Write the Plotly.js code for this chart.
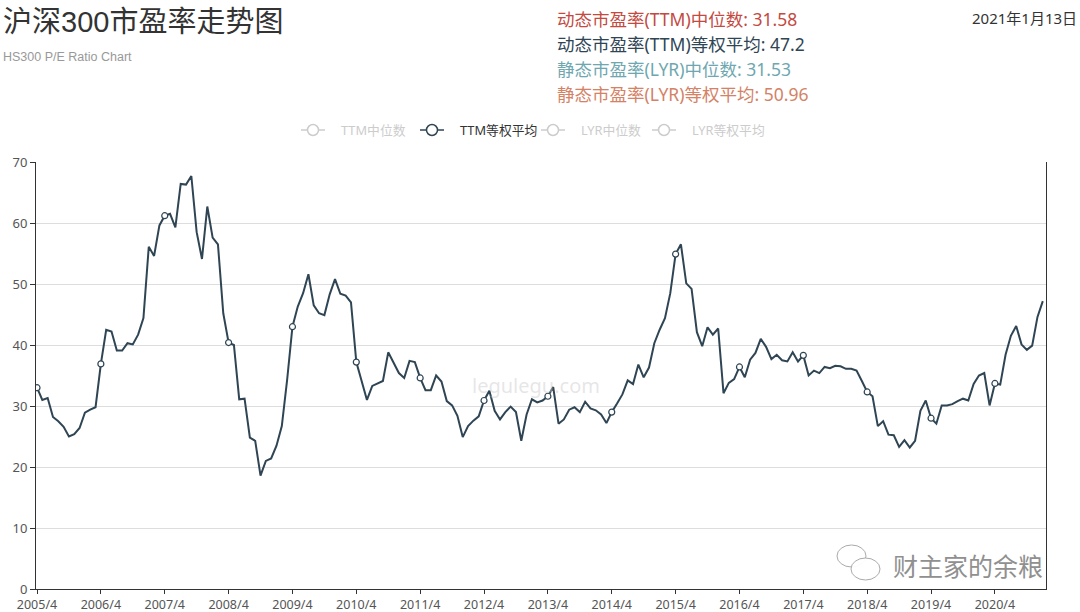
<!DOCTYPE html>
<html>
<head>
<meta charset="utf-8">
<script src="https://cdn.plot.ly/plotly-3.0.1.min.js"></script>
<style>html,body{margin:0;padding:0;background:#fff;}#chart{width:1080px;height:612px;}</style>
</head>
<body>
<div id="chart"></div>
<script>
// ---- data ----
var startYear = 2005, startMonth = 4;
var ttmEqualWeight = [
  33.0, 31.0, 31.3, 28.2, 27.5, 26.6, 25.0, 25.4, 26.4, 28.9, 29.4, 29.8,
  36.9, 42.5, 42.2, 39.1, 39.1, 40.3, 40.1, 41.7, 44.4, 56.1, 54.6, 59.6,
  61.2, 61.5, 59.3, 66.4, 66.3, 67.7, 58.5, 54.1, 62.7, 57.6, 56.5, 45.2,
  40.4, 40.0, 31.1, 31.2, 24.8, 24.3, 18.6, 21.0, 21.4, 23.5, 26.7, 34.3,
  43.0, 46.3, 48.5, 51.6, 46.5, 45.2, 44.9, 48.3, 50.8, 48.4, 48.1, 47.0,
  37.2, 34.3, 31.0, 33.3, 33.7, 34.1, 38.8, 37.2, 35.4, 34.6, 37.4, 37.2,
  34.6, 32.6, 32.6, 35.0, 34.0, 30.8, 30.1, 28.4, 24.9, 26.7, 27.6, 28.3,
  30.9, 32.5, 29.2, 27.8, 29.0, 29.9, 29.0, 24.3, 28.6, 31.1, 30.6, 30.9,
  31.6, 33.1, 27.1, 27.8, 29.4, 29.8, 29.0, 30.7, 29.6, 29.3, 28.6, 27.2,
  29.0, 30.4, 31.9, 34.2, 33.6, 36.8, 34.7, 36.3, 40.3, 42.5, 44.4, 48.5,
  54.9, 56.5, 50.1, 49.2, 42.1, 39.8, 42.9, 41.7, 42.7, 32.1, 33.8, 34.4,
  36.4, 34.7, 37.6, 38.7, 41.0, 39.7, 37.7, 38.4, 37.5, 37.3, 38.8, 37.3,
  38.3, 35.0, 35.8, 35.4, 36.4, 36.2, 36.6, 36.5, 36.1, 36.1, 35.8, 34.1,
  32.3, 31.6, 26.7, 27.5, 25.3, 25.2, 23.3, 24.4, 23.2, 24.3, 29.2, 30.9,
  28.0, 27.1, 30.1, 30.1, 30.3, 30.8, 31.2, 30.9, 33.6, 35.0, 35.4, 30.1,
  33.7, 33.5, 38.4, 41.5, 43.1, 40.1, 39.2, 39.9, 44.6, 47.2
];
var tickLabels = ['2005/4','2006/4','2007/4','2008/4','2009/4','2010/4','2011/4','2012/4',
                  '2013/4','2014/4','2015/4','2016/4','2017/4','2018/4','2019/4','2020/4'];
var legendNames = ['TTM中位数','TTM等权平均','LYR中位数','LYR等权平均'];
var legendActive = [false, true, false, false];
var summaryLabels = ['动态市盈率(TTM)中位数','动态市盈率(TTM)等权平均','静态市盈率(LYR)中位数','静态市盈率(LYR)等权平均'];
var summaryValues = ['31.58','47.2','31.53','50.96'];
var dateText = '2021年1月13日';

// month categories
var months = [];
for (var i = 0; i < ttmEqualWeight.length; i++) {
  var m = startMonth - 1 + i;
  months.push((startYear + Math.floor(m / 12)) + '/' + (m % 12 + 1));
}

// ---- styling ----
var LINE = '#2f4554';
var summaryColors = ['#c4493f', '#2f4554', '#6ea7b0', '#d48265'];
var FONT = 'Noto Sans, Noto Sans CJK SC, sans-serif';
var L = 36, R = 1046, T = 162, B = 589, W = 1080, H = 612;
function px(x) { return (x - L) / (R - L); }
function py(y) { return (B - y) / (B - T); }

var markerOpacity = months.map(function (d, i) { return i % 12 === 0 ? 1 : 0; });

var trace = {
  type: 'scatter', mode: 'lines+markers',
  x: months, y: ttmEqualWeight,
  line: { color: LINE, width: 2 },
  marker: { size: 6, color: '#ffffff', opacity: markerOpacity, line: { color: LINE, width: 1.2 } },
  showlegend: false, hoverinfo: 'x+y'
};

var annotations = [];
var shapes = [];

// title
annotations.push({ xref: 'paper', yref: 'paper', x: px(1), y: py(22), xanchor: 'left', yanchor: 'middle',
  text: '沪深300市盈率走势图', showarrow: false,
  font: { family: 'Liberation Sans, Noto Sans CJK SC, sans-serif', size: 29, color: '#333' } });
annotations.push({ xref: 'paper', yref: 'paper', x: px(1), y: py(57), xanchor: 'left', yanchor: 'middle',
  text: 'HS300 P/E Ratio Chart', showarrow: false,
  font: { family: 'Liberation Sans, sans-serif', size: 12.5, color: '#999' } });
// date
annotations.push({ xref: 'paper', yref: 'paper', x: px(1079), y: py(18), xanchor: 'right', yanchor: 'middle',
  text: dateText, showarrow: false, font: { family: FONT, size: 15, color: '#333' } });
// summary lines
for (var k = 0; k < summaryLabels.length; k++) {
  annotations.push({ xref: 'paper', yref: 'paper', x: px(555), y: py(19 + 25 * k), xanchor: 'left', yanchor: 'middle',
    text: summaryLabels[k] + ': ' + summaryValues[k], showarrow: false,
    font: { family: FONT, size: 17.5, color: summaryColors[k] } });
}
// legend (manual)
var legendCenters = [313, 432, 553, 664];
for (var j = 0; j < legendNames.length; j++) {
  var c = legendActive[j] ? LINE : '#cccccc';
  var cx = legendCenters[j], cy = 130;
  shapes.push({ type: 'line', xref: 'paper', yref: 'paper', x0: px(cx - 12), x1: px(cx + 12), y0: py(cy), y1: py(cy),
    line: { color: c, width: 1.5 } });
  shapes.push({ type: 'circle', xref: 'paper', yref: 'paper', x0: px(cx - 5.5), x1: px(cx + 5.5), y0: py(cy - 5.5), y1: py(cy + 5.5),
    fillcolor: '#ffffff', line: { color: c, width: 1.5 } });
  annotations.push({ xref: 'paper', yref: 'paper', x: px(cx + 26), y: py(cy), xanchor: 'left', yanchor: 'middle',
    text: legendNames[j], showarrow: false,
    font: { family: FONT, size: 12.8, color: legendActive[j] ? '#333' : '#cccccc' } });
}
// watermarks
annotations.push({ xref: 'paper', yref: 'paper', x: px(536), y: py(385), xanchor: 'center', yanchor: 'middle',
  text: 'legulegu.com', showarrow: false, font: { family: FONT, size: 20, color: 'rgba(200,200,200,0.45)' } });
shapes.push({ type: 'circle', xref: 'paper', yref: 'paper', x0: px(837), x1: px(866), y0: py(567), y1: py(545),
  fillcolor: 'rgba(255,255,255,0.9)', line: { color: '#aaa', width: 1 } });
shapes.push({ type: 'circle', xref: 'paper', yref: 'paper', x0: px(851), x1: px(880), y0: py(580), y1: py(558),
  fillcolor: 'rgba(255,255,255,0.95)', line: { color: '#aaa', width: 1 } });
annotations.push({ xref: 'paper', yref: 'paper', x: px(1045), y: py(566), xanchor: 'right', yanchor: 'middle',
  text: '财主家的余粮', showarrow: false, font: { family: FONT, size: 25, color: '#909090' } });

var layout = {
  width: W, height: H,
  margin: { l: L, r: W - R, t: T, b: H - B, pad: 0 },
  paper_bgcolor: '#ffffff', plot_bgcolor: '#ffffff',
  font: { family: FONT, size: 13, color: '#555' },
  showlegend: false,
  xaxis: {
    type: 'category', range: [-0.19, 189.6],
    tickmode: 'array', tickvals: tickLabels, ticktext: tickLabels,
    showgrid: false, zeroline: false,
    showline: true, linecolor: '#333', linewidth: 1,
    ticks: 'outside', ticklen: 4, tickcolor: '#333',
    tickfont: { family: FONT, size: 12.5, color: '#555' }
  },
  yaxis: {
    range: [0, 70], tickmode: 'array', tickvals: [0, 10, 20, 30, 40, 50, 60, 70],
    showgrid: true, gridcolor: '#dddddd', gridwidth: 1, zeroline: false,
    showline: true, linecolor: '#333', linewidth: 1, mirror: true,
    ticks: 'outside', ticklen: 5, tickcolor: '#333',
    tickfont: { family: FONT, size: 13, color: '#555' }
  },
  annotations: annotations,
  shapes: shapes
};

Plotly.newPlot('chart', [trace], layout, { displayModeBar: false, staticPlot: true });
</script>
</body>
</html>
